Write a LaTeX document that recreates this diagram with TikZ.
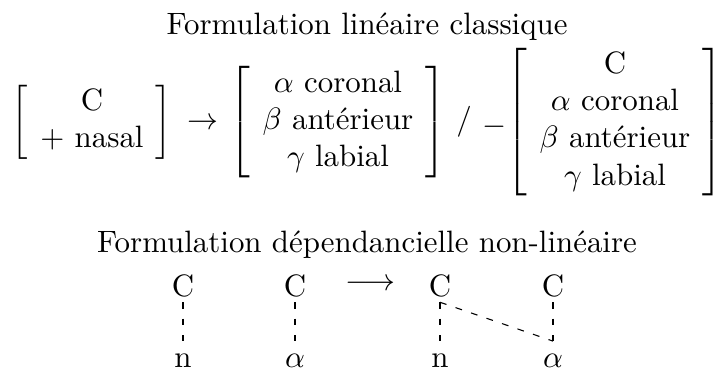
\documentclass[tikz,border=0pt]{standalone}
\usepackage{amsmath}
\begin{document}
\begin{tikzpicture}[x=0.3236pt,y=-0.3236pt,
  lbl/.style={anchor=base,inner sep=0pt},
  seg/.style={anchor=base,inner sep=1.5pt,text height=7pt,text depth=0pt},
  dep/.style={dash pattern=on 2.2pt off 3.1pt,line width=0.35pt}]
\useasboundingbox (0,0) rectangle (717,370);
\setlength{\arraycolsep}{4pt}
% classic linear formulation
\node[lbl] (t1) at (367,35) {Formulation linéaire classique};
\node[lbl] (m1) at (92,129.7) {$\left[\begin{array}{c}\text{C}\\ \text{$+$ nasal}\end{array}\right]$};
\node[lbl] (ar1) at (202.5,129.7) {$\rightarrow$};
\node[lbl] (m2) at (338,129.7) {$\left[\begin{array}{c}\alpha\text{ coronal}\\ \beta\text{ antérieur}\\ \gamma\text{ labial}\end{array}\right]$};
\node[lbl] (sl) at (464,129.7) {/};
\node[lbl] (env) at (495,134.7) {$-$};
\node[lbl] (m3) at (615,129.7) {$\left[\begin{array}{c}\text{C}\\ \alpha\text{ coronal}\\ \beta\text{ antérieur}\\ \gamma\text{ labial}\end{array}\right]$};
% non-linear dependency formulation
\node[lbl] (t2) at (367,253) {Formulation dépendancielle non-linéaire};
\node[seg] (c1) at (183,297) {C};
\node[seg] (c2) at (295,297) {C};
\node[lbl] (ar2) at (370.5,290.7) {$\longrightarrow$};
\node[seg] (c3) at (440,297) {C};
\node[seg] (c4) at (553,297) {C};
\node[seg] (n1) at (183,368) {n};
\node[seg] (a2) at (295,368) {$\alpha$};
\node[seg] (n3) at (440,368) {n};
\node[seg] (a4) at (553,368) {$\alpha$};
\draw[dep] (c1.south) -- (n1.north);
\draw[dep] (c2.south) -- (a2.north);
\draw[dep] (c3.south) -- (n3.north);
\draw[dep] (c3.south) -- (a4.north);
\draw[dep] (c4.south) -- (a4.north);
\end{tikzpicture}
\end{document}
